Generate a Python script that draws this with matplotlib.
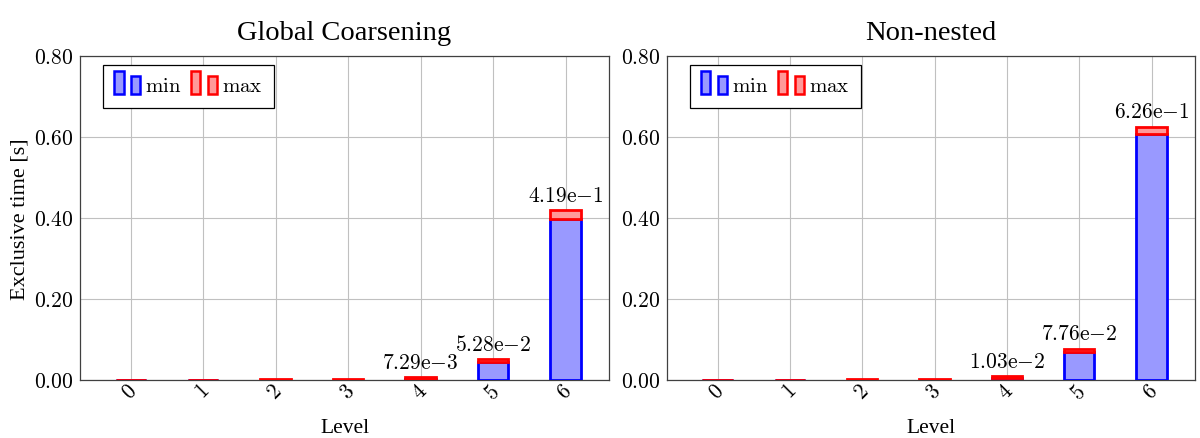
import matplotlib
matplotlib.use("Agg")
import matplotlib.pyplot as plt
from matplotlib.patches import Rectangle
from matplotlib.legend_handler import HandlerBase
from matplotlib.ticker import FuncFormatter

plt.rcParams['font.family'] = ['Liberation Serif', 'DejaVu Serif']
plt.rcParams['mathtext.fontset'] = 'cm'

# Exclusive time per level: min and max over ranks
levels = [0, 1, 2, 3, 4, 5, 6]
gc_min = [2.0e-4, 3.0e-4, 5.0e-4, 8.0e-4, 1.5e-3, 4.45e-2, 3.97e-1]
gc_max = [6.0e-4, 8.0e-4, 1.6e-3, 2.2e-3, 7.29e-3, 5.28e-2, 4.19e-1]
nn_min = [2.0e-4, 3.0e-4, 5.0e-4, 9.0e-4, 6.0e-3, 7.05e-2, 6.07e-1]
nn_max = [6.0e-4, 1.2e-3, 1.8e-3, 2.4e-3, 1.03e-2, 7.76e-2, 6.26e-1]
labeled_levels = [4, 5, 6]
titles = ['Global Coarsening', 'Non-nested']

BLUE, BLUE_FILL = '#0000ff', '#9999ff'
RED, RED_FILL = '#ff0000', '#ff9999'


class PairedBarHandler(HandlerBase):
    # pgfplots-style ybar legend image: two small bars
    def create_artists(self, legend, orig_handle, xdescent, ydescent,
                       width, height, fontsize, trans):
        fc = orig_handle.get_facecolor()
        ec = orig_handle.get_edgecolor()
        w = width * 0.36
        y0 = -ydescent - 0.2 * height
        r1 = Rectangle((-xdescent, y0), w, height * 1.6,
                       facecolor=fc, edgecolor=ec, lw=1.8, transform=trans)
        r2 = Rectangle((-xdescent + width * 0.64, y0), w, height * 1.25,
                       facecolor=fc, edgecolor=ec, lw=1.8, transform=trans)
        return [r1, r2]


def sci_label(v):
    mant, exp = f"{v:.2e}".split('e')
    return rf"${mant}\mathrm{{e}}{{-}}{abs(int(exp))}$"


fig = plt.figure(figsize=(12, 4.39), dpi=100)
positions = [[0.0667, 0.132, 0.4408, 0.738], [0.5558, 0.132, 0.4400, 0.738]]

for pos, title, vmin, vmax in zip(positions, titles, [gc_min, nn_min], [gc_max, nn_max]):
    ax = fig.add_axes(pos)
    extra = [hi - lo for lo, hi in zip(vmin, vmax)]
    hb = ax.bar(levels, vmin, width=0.42, color=BLUE_FILL, edgecolor=BLUE,
                linewidth=2, zorder=3, label='min')
    hr = ax.bar(levels, extra, bottom=vmin, width=0.42, color=RED_FILL,
                edgecolor=RED, linewidth=2, zorder=3, label='max')
    for lv in labeled_levels:
        ax.annotate(sci_label(vmax[lv]), (lv, vmax[lv]), xytext=(0, 3),
                    textcoords='offset points', ha='center', va='bottom',
                    fontsize=15.5, zorder=4)

    ax.set_xlim(-0.7, 6.6)
    ax.set_ylim(0, 0.8)
    ax.set_xticks(levels)
    ax.set_xticklabels([f"${lv}$" for lv in levels], rotation=45,
                       ha='center', va='top', fontsize=15.5)
    ax.set_yticks([0, 0.2, 0.4, 0.6, 0.8])
    ax.yaxis.set_major_formatter(FuncFormatter(lambda v, p: f"${v:.2f}$"))
    ax.tick_params(axis='y', labelsize=15.5, length=0, pad=5)
    ax.tick_params(axis='x', length=0, pad=1)
    ax.grid(True, color='#c0c0c0', linewidth=0.8, zorder=0)
    ax.set_axisbelow(True)
    for sp in ax.spines.values():
        sp.set_color('#404040')
        sp.set_linewidth(0.9)

    ax.set_title(title, fontsize=20.5, pad=12)
    ax.set_xlabel('Level', fontsize=15.5, labelpad=10)
    if pos[0] < 0.5:
        ax.set_ylabel('Exclusive time [s]', fontsize=16, labelpad=3)

    leg = ax.legend(handles=[hb.patches[0], hr.patches[0]],
                    labels=['$\\mathrm{min}$', '$\\mathrm{max}$'],
                    handler_map={Rectangle: PairedBarHandler()}, ncol=2,
                    loc='upper left', bbox_to_anchor=(0.043, 0.972), borderaxespad=0,
                    fontsize=15, handlelength=1.25, handletextpad=0.25,
                    columnspacing=0.45, borderpad=0.55, fancybox=False,
                    framealpha=1, edgecolor='black')
    leg.get_frame().set_linewidth(0.9)

fig.savefig('out.png', dpi=100)
